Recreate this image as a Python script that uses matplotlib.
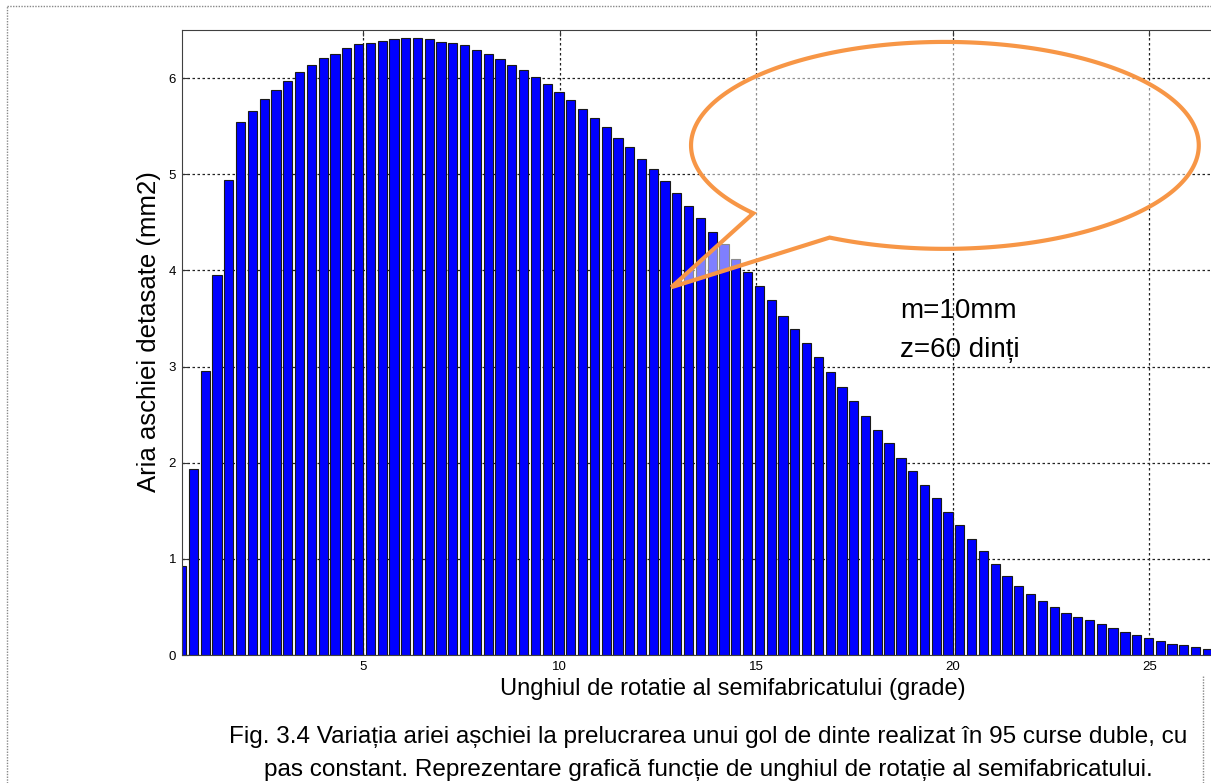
import numpy as np
import matplotlib
matplotlib.use("Agg")
import matplotlib.pyplot as plt
from matplotlib.patches import Polygon
from matplotlib.lines import Line2D

plt.rcParams['font.family'] = ['Liberation Sans', 'DejaVu Sans']

# chip area per double stroke (mm2), first 88 strokes visible
area = [
    0.93, 1.93, 2.95, 3.95, 4.94, 5.54, 5.66, 5.78, 5.88, 5.97,
    6.06, 6.14, 6.21, 6.25, 6.31, 6.35, 6.37, 6.39, 6.41, 6.42,
    6.42, 6.41, 6.38, 6.36, 6.34, 6.29, 6.25, 6.20, 6.14, 6.08,
    6.01, 5.94, 5.86, 5.77, 5.68, 5.59, 5.49, 5.38, 5.28, 5.16,
    5.05, 4.93, 4.80, 4.67, 4.55, 4.40, 4.27, 4.12, 3.98, 3.84,
    3.69, 3.53, 3.39, 3.25, 3.10, 2.94, 2.79, 2.64, 2.49, 2.34,
    2.20, 2.05, 1.91, 1.77, 1.63, 1.49, 1.35, 1.21, 1.08, 0.95,
    0.82, 0.72, 0.63, 0.56, 0.50, 0.44, 0.40, 0.36, 0.32, 0.28,
    0.24, 0.21, 0.18, 0.15, 0.114, 0.10, 0.083, 0.066,
]
angle_start = 0.38   # grade
angle_step = 0.30    # grade per double stroke
angles = angle_start + angle_step * np.arange(len(area))

xticks = [5, 10, 15, 20, 25]
yticks = [0, 1, 2, 3, 4, 5, 6]

params = ["m=10mm", "z=60 dinți"]
caption = ["Fig. 3.4 Variația ariei așchiei la prelucrarea unui gol de dinte realizat în 95 curse duble, cu",
           "pas constant. Reprezentare grafică funcție de unghiul de rotație al semifabricatului."]

W, H = 1211, 783
fig = plt.figure(figsize=(W / 100, H / 100), dpi=100)
ax = fig.add_axes([181.7 / W, (H - 655) / H, (W - 181.7) / W, 625 / H])

ax.bar(angles, area, width=0.235, color='#0000ff', edgecolor='#1a1a1a', linewidth=0.8)

ax.set_xlim(angle_start, angle_start + (W - 181.7) / 39.3)
ax.set_ylim(0, 6.5)
ax.set_xticks(xticks)
ax.set_yticks(yticks)
ax.tick_params(direction='in', top=True, right=False, length=4, labelsize=9.5,
               color='#333333', pad=4)
ax.grid(True, linestyle=(0, (2, 2)), color='#222222', linewidth=0.9)
ax.set_axisbelow(True)
for side in ['left', 'top', 'bottom']:
    ax.spines[side].set_color('#404040')
ax.spines['right'].set_visible(False)

ax.set_ylabel('Aria aschiei detasate (mm2)', fontsize=18.5, va='center')
ax.yaxis.set_label_coords(-0.0318, 0.518)
ax.set_xlabel('Unghiul de rotatie al semifabricatului (grade)', fontsize=17, va='center')
ax.xaxis.set_label_coords(0.5356, -0.0544)

# speech bubble drawn over the plot
ecx, ecy, erx, ery = 19.8, 5.30, 6.46, 1.076
t_lo, t_hi = np.radians(-139.0), np.radians(-117.0)
t = np.linspace(t_hi, t_lo + 2 * np.pi, 300)
pts = list(zip(ecx + erx * np.cos(t), ecy + ery * np.sin(t)))
pts.append((12.84, 3.825))
bubble = Polygon(pts, closed=True, facecolor=(1, 1, 1, 0.5), edgecolor='#F79646',
                 linewidth=3, joinstyle='miter', zorder=5, clip_on=False)
ax.add_patch(bubble)

ax.text(18.65, 3.50, params[0], fontsize=20, va='baseline', ha='left', zorder=6)
ax.text(18.65, 3.10, params[1], fontsize=20, va='baseline', ha='left', zorder=6)

fig.text(708 / W, 1 - 737 / H, caption[0], ha='center', va='center', fontsize=17.5)
fig.text(708 / W, 1 - 770 / H, caption[1], ha='center', va='center', fontsize=17.5)

# dotted frame of the figure box
frame = dict(color='#888888', linestyle=(0, (1, 1)), linewidth=1)
fig.add_artist(Line2D([7 / W, 7 / W], [0, 1 - 6 / H], **frame))
fig.add_artist(Line2D([7 / W, 1], [1 - 6 / H, 1 - 6 / H], **frame))
fig.add_artist(Line2D([1203 / W, 1203 / W], [0, 1 - 675 / H], **frame))

fig.savefig("out.png", dpi=100)
